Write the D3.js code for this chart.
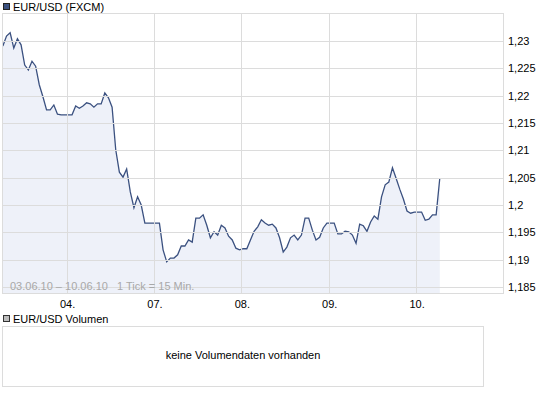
<!DOCTYPE html>
<html>
<head>
<meta charset="utf-8">
<script src="https://cdn.jsdelivr.net/npm/d3@7"></script>
<style>
  body { margin: 0; background: #fff; }
  svg { display: block; font-family: "Liberation Sans", Arial, sans-serif; }
</style>
</head>
<body>
<div id="chart"></div>
<script>
// EUR/USD hourly closes, 03.06.10 06:30 -> 10.06.10 06:30 (trading hours only)
var startHour = 6.5;
var prices = [
  1.2291, 1.2309, 1.2315, 1.2287, 1.2304, 1.2293, 1.2256, 1.2247, 1.2263, 1.2254,
  1.2220, 1.2198, 1.2174, 1.2174, 1.2183, 1.2166, 1.2165, 1.2165, 1.2165, 1.2165,
  1.2181, 1.2177, 1.2181, 1.2187, 1.2185, 1.2179, 1.2185, 1.2185, 1.2205, 1.2196,
  1.2179, 1.2101, 1.2060, 1.2051, 1.2066, 1.2024, 1.1995, 1.2015, 1.2000, 1.1967,
  1.1967, 1.1967, 1.1967, 1.1967, 1.1918, 1.1896, 1.1903, 1.1903, 1.1909, 1.1925,
  1.1925, 1.1936, 1.1932, 1.1976, 1.1976, 1.1982, 1.1963, 1.1940, 1.1951, 1.1945,
  1.1963, 1.1958, 1.1943, 1.1936, 1.1921, 1.1918, 1.1920, 1.1920, 1.1936, 1.1952,
  1.1960, 1.1973, 1.1967, 1.1963, 1.1965, 1.1958, 1.1940, 1.1914, 1.1923, 1.1940,
  1.1945, 1.1936, 1.1945, 1.1976, 1.1976, 1.1954, 1.1936, 1.1941, 1.1958, 1.1967,
  1.1967, 1.1967, 1.1947, 1.1947, 1.1952, 1.1951, 1.1945, 1.1930, 1.1965, 1.1962,
  1.1952, 1.1969, 1.1980, 1.1974, 1.2015, 1.2037, 1.2042, 1.2068, 1.2049, 1.2029,
  1.2011, 1.1989, 1.1985, 1.1987, 1.1987, 1.1987, 1.1972, 1.1974, 1.1982, 1.1982,
  1.2049
];

var dayLabels = ["04.", "07.", "08.", "09.", "10."];   // trading days 1..5
var yTicks = [1.185, 1.19, 1.195, 1.2, 1.205, 1.21, 1.215, 1.22, 1.225, 1.23];
var yTickLabels = ["1,185", "1,19", "1,195", "1,2", "1,205", "1,21", "1,215", "1,22", "1,225", "1,23"];

var width = 545;
var height = 395;

// plot frame (pixel-aligned)
var pLeft = 2.5, pRight = 503.5, pTop = 13.5, pBottom = 293.5;

var svg = d3.select("#chart")
            .append("svg")
            .attr("width", width)
            .attr("height", height);

// x: trading day index (0 = 03.06), y: price
var x = d3.scaleLinear().domain([0, 6]).range([-20.8, 503.5]);
var y = d3.scaleLinear().domain([1.185, 1.23]).range([287, 41]);

var data = prices.map(function(p, i) { return { day: (startHour + i) / 24, v: p }; });

svg.append("defs").append("clipPath").attr("id", "plotclip")
   .append("rect")
   .attr("x", pLeft).attr("y", pTop)
   .attr("width", pRight - pLeft).attr("height", pBottom - pTop);

// title
svg.append("rect").attr("x", 3.5).attr("y", 3.5).attr("width", 6).attr("height", 6)
   .attr("fill", "#3b5180").attr("stroke", "#222");
svg.append("text").attr("x", 13).attr("y", 11).attr("font-size", 11)
   .attr("fill", "#000").text("EUR/USD (FXCM)");

var plot = svg.append("g").attr("clip-path", "url(#plotclip)");

// area fill
var area = d3.area()
  .x(function(d) { return x(d.day); })
  .y0(pBottom)
  .y1(function(d) { return y(d.v); });

plot.append("path").datum(data)
    .attr("d", area)
    .attr("fill", "#eef1f9");

// grid
svg.selectAll(".hgrid").data(yTicks).enter().append("line")
   .attr("x1", pLeft).attr("x2", pRight)
   .attr("y1", function(d) { return Math.round(y(d)) + 0.5; })
   .attr("y2", function(d) { return Math.round(y(d)) + 0.5; })
   .attr("stroke", "#dcdcdc");

svg.selectAll(".vgrid").data(dayLabels).enter().append("line")
   .attr("x1", function(d, i) { return Math.round(x(i + 1)) + 0.5; })
   .attr("x2", function(d, i) { return Math.round(x(i + 1)) + 0.5; })
   .attr("y1", pTop).attr("y2", pBottom)
   .attr("stroke", "#dcdcdc");

svg.append("rect")
   .attr("x", pLeft).attr("y", pTop)
   .attr("width", pRight - pLeft).attr("height", pBottom - pTop)
   .attr("fill", "none").attr("stroke", "#dcdcdc");

// price line
var line = d3.line()
  .x(function(d) { return x(d.day); })
  .y(function(d) { return y(d.v); });

plot.append("path").datum(data)
    .attr("d", line)
    .attr("fill", "none")
    .attr("stroke", "#3b5180")
    .attr("stroke-width", 1.3);

// y labels
svg.selectAll(".ylab").data(yTicks).enter().append("text")
   .attr("x", 508)
   .attr("y", function(d) { return y(d) + 4; })
   .attr("font-size", 11)
   .text(function(d, i) { return yTickLabels[i]; });

// x labels
svg.selectAll(".xlab").data(dayLabels).enter().append("text")
   .attr("x", function(d, i) { return x(i + 1) + 1; })
   .attr("y", 308)
   .attr("text-anchor", "middle")
   .attr("font-size", 11)
   .text(function(d) { return d; });

svg.append("text").attr("x", 10).attr("y", 290).attr("font-size", 11)
   .attr("fill", "#a8a8a8")
   .style("white-space", "pre")
   .text("03.06.10 \u2013 10.06.10   1 Tick = 15 Min.");

// volume panel
svg.append("rect").attr("x", 3.5).attr("y", 315.5).attr("width", 6).attr("height", 6)
   .attr("fill", "#bdbdbd").attr("stroke", "#333");
svg.append("text").attr("x", 13).attr("y", 323).attr("font-size", 11)
   .text("EUR/USD Volumen");

svg.append("rect")
   .attr("x", 2.5).attr("y", 326.5)
   .attr("width", 481).attr("height", 60)
   .attr("fill", "none").attr("stroke", "#dcdcdc");

svg.append("text").attr("x", 243).attr("y", 359)
   .attr("text-anchor", "middle").attr("font-size", 11)
   .text("keine Volumendaten vorhanden");
</script>
</body>
</html>
